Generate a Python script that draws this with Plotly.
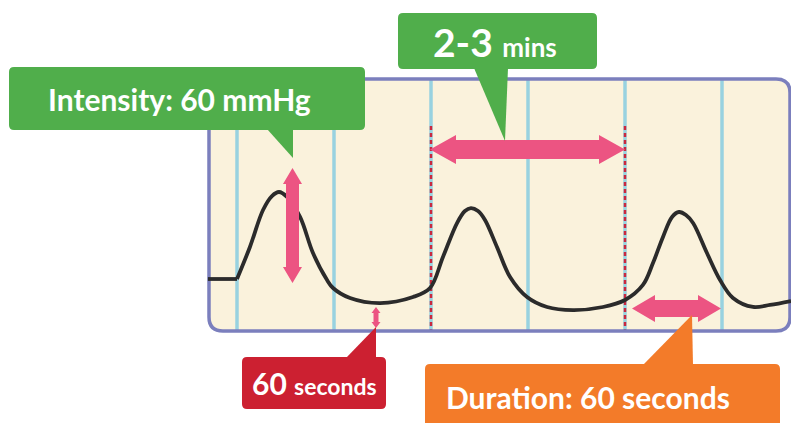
import plotly.graph_objects as go

# ---------------- data ----------------
# time in seconds, uterine pressure in mmHg
rest_time = [-18.0, 0.0]
rest_pressure = [25.0, 25.0]

contraction_time = [0.0, 8.0, 16.1, 21.6, 26.0, 30.9, 39.0, 47.0, 55.7, 59.4, 69.9, 88.5,
                    108.9, 119.4, 127.4, 136.1, 141.0, 144.7, 149.1, 153.4, 160.8, 168.9,
                    179.4, 191.8, 207.8, 226.4, 240.0, 251.1, 257.3, 263.5, 269.1, 273.4,
                    277.7, 282.1, 290.7, 298.8, 306.8, 319.2, 329.7, 342.7]
contraction_pressure = [25.0, 47.1, 72.6, 82.2, 85.0, 81.6, 67.8, 42.9, 24.3, 18.8, 11.9, 8.4,
                        12.6, 18.8, 40.2, 63.6, 71.9, 73.9, 71.9, 65.7, 47.1, 26.4,
                        12.6, 5.7, 3.6, 5.7, 10.5, 20.9, 36.0, 54.0, 67.8, 71.2,
                        69.1, 63.6, 42.9, 24.3, 11.9, 5.7, 7.1, 9.8]

grid_times = [0, 60, 120, 180, 240, 300]        # one grid interval = 60 s
dashed_times = [120, 240]                       # 2-3 min interval markers

label_intensity = "Intensity: 60 mmHg"
label_interval_big, label_interval_small = "2-3", "mins"
label_rest_big, label_rest_small = "60", "seconds"
label_duration = "Duration: 60 seconds"

# ---------------- geometry helpers ----------------
W, H = 791, 423
X0_PX, PX_PER_S = 237.0, 97.0 / 60.0      # pixel of t=0, pixels per second
Y0_PX, PX_PER_MMHG = 315.25, 1.45          # pixel of 0 mmHg, pixels per mmHg

x_range = [(0 - X0_PX) / PX_PER_S, (W - X0_PX) / PX_PER_S]
y_range = [(Y0_PX - H) / PX_PER_MMHG, Y0_PX / PX_PER_MMHG]


def px(x):
    return x / W


def py(y):
    return 1 - y / H


def pt(x, y):
    return f"{px(x):.5f},{py(y):.5f}"


def rrect(x0, y0, x1, y1, r):
    return (f"M{pt(x0 + r, y0)} L{pt(x1 - r, y0)} Q{pt(x1, y0)} {pt(x1, y0 + r)} "
            f"L{pt(x1, y1 - r)} Q{pt(x1, y1)} {pt(x1 - r, y1)} L{pt(x0 + r, y1)} "
            f"Q{pt(x0, y1)} {pt(x0, y1 - r)} L{pt(x0, y0 + r)} Q{pt(x0, y0)} {pt(x0 + r, y0)} Z")


def poly(points):
    return "M" + " L".join(pt(x, y) for x, y in points) + " Z"


def harrow(x1, x2, yc, sh, hh, hl):
    return poly([(x1, yc), (x1 + hl, yc - hh), (x1 + hl, yc - sh), (x2 - hl, yc - sh),
                 (x2 - hl, yc - hh), (x2, yc), (x2 - hl, yc + hh), (x2 - hl, yc + sh),
                 (x1 + hl, yc + sh), (x1 + hl, yc + hh)])


def varrow(xc, y1, y2, sh, hh, hl):
    return poly([(xc, y1), (xc + hh, y1 + hl), (xc + sh, y1 + hl), (xc + sh, y2 - hl),
                 (xc + hh, y2 - hl), (xc, y2), (xc - hh, y2 - hl), (xc - sh, y2 - hl),
                 (xc - sh, y1 + hl), (xc - hh, y1 + hl)])


def t2px(t):
    return X0_PX + t * PX_PER_S


PINK = "#ec5482"
GREEN = "#50ae4b"
RED = "#cc2031"
ORANGE = "#f37b29"
CREAM = "#faf2dc"
BORDER = "#7b7fbd"
GRIDBLUE = "#98d2e0"
DASHRED = "#c9283e"
INK = "#2b2b2b"

shapes = []
# panel background
shapes.append(dict(type="path", xref="paper", yref="paper", layer="below",
                   path=rrect(209, 79, 790, 331, 14), fillcolor=CREAM, line=dict(width=0)))
# vertical grid lines
for t in grid_times:
    shapes.append(dict(type="line", xref="x", yref="paper", layer="below",
                       x0=t, x1=t, y0=py(80), y1=py(330),
                       line=dict(color=GRIDBLUE, width=3.5)))
for t in dashed_times:
    shapes.append(dict(type="line", xref="x", yref="paper", layer="below",
                       x0=t, x1=t, y0=py(126), y1=py(330),
                       line=dict(color=DASHRED, width=2.5, dash="4px,3px")))
# panel border
shapes.append(dict(type="path", xref="paper", yref="paper", layer="below",
                   path=rrect(209, 79, 790, 331, 14), line=dict(color=BORDER, width=3.5)))

# arrows
shapes.append(dict(type="path", xref="paper", yref="paper", layer="above",
                   path=varrow(292.5, 168, 283, 6.5, 9.5, 16), fillcolor=PINK, line=dict(width=0)))
shapes.append(dict(type="path", xref="paper", yref="paper", layer="above",
                   path=harrow(t2px(dashed_times[0]) - 1, t2px(dashed_times[1]), 149.5, 9.5, 14.5, 26),
                   fillcolor=PINK, line=dict(width=0)))
shapes.append(dict(type="path", xref="paper", yref="paper", layer="above",
                   path=harrow(632, 721, 308.5, 8.5, 13.5, 23), fillcolor=PINK, line=dict(width=0)))
shapes.append(dict(type="path", xref="paper", yref="paper", layer="above",
                   path=varrow(376, 307, 328, 2.5, 4.5, 6), fillcolor=PINK, line=dict(width=0)))

# callouts
callouts = [
    (GREEN, (9, 67, 365, 130), [(267, 129), (293, 129), (293, 158)]),
    (GREEN, (398, 13, 597, 69), [(474, 68), (508, 68), (505, 141)]),
    (RED, (242, 357, 386, 409), [(346, 358), (376, 358), (376, 327)]),
    (ORANGE, (425, 364, 780, 440), [(643, 365), (693, 365), (692, 315)]),
]
for col, (a, b, c, d), tri in callouts:
    shapes.append(dict(type="path", xref="paper", yref="paper", layer="above",
                       path=rrect(a, b, c, d, 5), fillcolor=col, line=dict(width=0)))
    shapes.append(dict(type="path", xref="paper", yref="paper", layer="above",
                       path=poly(tri), fillcolor=col, line=dict(width=0)))

fig = go.Figure()
fig.add_trace(go.Scatter(x=rest_time, y=rest_pressure, mode="lines",
                         line=dict(color=INK, width=3.8), hoverinfo="skip"))
fig.add_trace(go.Scatter(x=contraction_time, y=contraction_pressure, mode="lines",
                         line=dict(color=INK, width=3.8, shape="spline", smoothing=1.0),
                         hoverinfo="skip"))

FONT = "Lato, 'Open Sans', sans-serif"
annotations = [
    dict(text=label_intensity, x=px(179), y=py(99), size=30),
    dict(text=f"{label_interval_big} <span style='font-size:26px'>{label_interval_small}</span>",
         x=px(495), y=py(42), size=39),
    dict(text=f"{label_rest_big} <span style='font-size:23px'>{label_rest_small}</span>",
         x=px(314), y=py(383), size=30),
    dict(text=label_duration, x=px(588), y=py(397), size=30),
]
fig.update_layout(annotations=[
    dict(text=a["text"], x=a["x"], y=a["y"], xref="paper", yref="paper",
         xanchor="center", yanchor="middle", showarrow=False,
         font=dict(family=FONT, size=a["size"], color="white", weight=700))
    for a in annotations
])

fig.update_layout(
    width=W, height=H, margin=dict(l=0, r=0, t=0, b=0),
    paper_bgcolor="white", plot_bgcolor="rgba(0,0,0,0)",
    showlegend=False, shapes=shapes,
    xaxis=dict(range=x_range, visible=False, fixedrange=True),
    yaxis=dict(range=y_range, visible=False, fixedrange=True),
)

fig.write_html("out.html", config={"displayModeBar": False},
               post_script="document.body.style.margin='0';document.body.style.overflow='hidden';")
